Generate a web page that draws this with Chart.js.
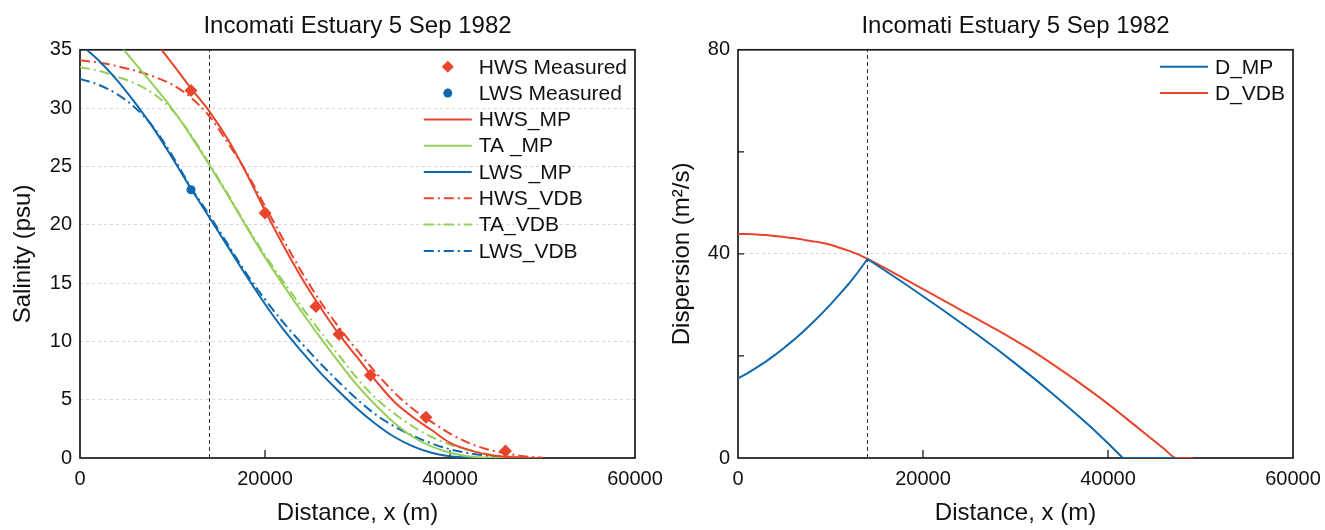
<!DOCTYPE html>
<html>
<head>
<meta charset="utf-8">
<script src="https://cdn.jsdelivr.net/npm/chart.js@4.4.1/dist/chart.umd.min.js"></script>
<style>
  html, body { margin: 0; padding: 0; background: #fff; }
  #wrap { position: relative; width: 1325px; height: 530px; }
  #left { position: absolute; left: 0; top: 0; }
  #right { position: absolute; left: 660px; top: 0; }
</style>
</head>
<body>
<div id="wrap">
  <canvas id="left" width="680" height="530"></canvas>
  <canvas id="right" width="665" height="530"></canvas>
</div>
<script>
const distance = [0, 2000, 4000, 6000, 8000, 10000, 12000, 14000, 16000, 18000, 20000, 22000, 24000,
  26000, 28000, 30000, 32000, 34000, 36000, 38000, 40000, 42000, 44000, 46000, 48000, 50000];
const hwsMP  = [null, null, null, 37.7, 35.8, 33.8, 31.7, 29.7, 27.3, 24.4, 21.2, 18.2, 15.4,
  12.9, 10.6, 8.6, 6.6, 4.8, 3.5, 2.4, 1.3, 0.7, 0.3, 0.1, 0.02, 0];
const taMP   = [null, 37.6, 35.7, 33.8, 31.9, 29.9, 27.6, 25.1, 22.5, 19.8, 17.2, 14.8, 12.5,
  10.3, 8.2, 6.2, 4.5, 3.0, 1.8, 1.0, 0.45, 0.15, 0.04, 0, 0, null];
const lwsMP  = [35.5, 34.1, 32.4, 30.4, 28.2, 25.7, 23.1, 20.6, 18.1, 15.6, 13.2, 11.0, 9.1,
  7.3, 5.7, 4.2, 2.9, 1.8, 1.0, 0.45, 0.15, 0.03, 0, 0, 0, null];
const hwsVDB = [34.1, 33.9, 33.6, 33.2, 32.7, 32.0, 30.9, 29.3, 27.0, 24.5, 21.6, 18.7, 15.9,
  13.4, 11.2, 9.2, 7.3, 5.6, 4.2, 3.1, 2.1, 1.3, 0.75, 0.4, 0.15, 0.03];
const taVDB  = [33.5, 33.2, 32.7, 32.1, 31.2, 29.8, 27.7, 25.2, 22.6, 19.9, 17.4, 15.1, 12.9,
  10.8, 8.8, 6.8, 5.1, 3.8, 2.7, 1.8, 1.15, 0.7, 0.35, 0.15, 0.05, null];
const lwsVDB = [32.5, 32.0, 31.2, 30.0, 28.3, 25.9, 23.2, 20.8, 18.3, 15.8, 13.6, 11.6, 9.8,
  8.1, 6.5, 5.0, 3.7, 2.7, 1.9, 1.25, 0.75, 0.42, 0.2, 0.08, 0.02, null];

// Measured salinity
const hwsMeasX = [12000, 20000, 25500, 28000, 31400, 37400, 46000];
const hwsMeasY = [31.5, 21.0, 13.0, 10.6, 7.1, 3.5, 0.6];
const lwsMeasX = [12000];
const lwsMeasY = [23.0];

// Dispersion curves (denser up to the 14 km kink)
const dDist = [0, 1000, 2000, 3000, 4000, 5000, 6000, 7000, 8000, 9000, 10000, 11000, 12000, 13000,
  14000, 16000, 18000, 20000, 22000, 24000, 26000, 28000, 30000, 32000, 34000, 36000, 38000,
  40000, 41600, 44000, 46000, 47400, 49200];
const dMP  = [15.6, 16.6, 17.7, 18.9, 20.2, 21.6, 23.1, 24.7, 26.4, 28.2, 30.1, 32.1, 34.2, 36.5,
  39.0, 36.6, 34.2, 31.7, 29.2, 26.6, 24.0, 21.3, 18.5, 15.6, 12.6, 9.5,
  6.3, 2.9, 0, 0, 0, 0, null];
const dVDB = [43.9, 43.9, 43.8, 43.7, 43.5, 43.3, 43.1, 42.8, 42.5, 42.2, 41.8, 41.2, 40.6, 39.9,
  39.0, 37.1, 35.1, 33.1, 31.1, 29.1, 27.1, 25.1, 23.0, 20.8, 18.4, 15.9,
  13.3, 10.6, 8.3, 4.8, 1.9, 0, 0];

const refX = 14000;   // dashed vertical marker
const chartTitle = 'Incomati Estuary 5 Sep 1982';

const RED = '#e8452c';
const GREEN = '#95cf5b';
const BLUE = '#0f68ae';
const DASHDOT = [10, 4, 2, 4];

Chart.defaults.font.family = '"Liberation Sans", Arial, sans-serif';
Chart.defaults.color = '#111';

function pts(xs, ys) {
  const out = [];
  xs.forEach((x, i) => { if (ys[i] !== null) out.push({ x: x, y: ys[i] }); });
  return out;
}

function curve(label, xs, ys, color, dash, smooth) {
  return {
    type: 'line', label: label, data: pts(xs, ys),
    borderColor: color, backgroundColor: color, borderWidth: 2,
    borderDash: dash || [], pointRadius: 0, pointHoverRadius: 0,
    cubicInterpolationMode: smooth === false ? 'default' : 'monotone',
    tension: 0, fill: false, order: 2
  };
}

function refLine(yMax) {
  return {
    type: 'line', label: '', skipLegend: true,
    data: [{ x: refX, y: 0 }, { x: refX, y: yMax }],
    borderColor: '#333', borderWidth: 1, borderDash: [4, 3],
    pointRadius: 0, order: 9
  };
}

// legend drawn inside the plot, top right
const insideLegend = {
  id: 'insideLegend',
  afterDraw(chart, args, opts) {
    const { ctx, chartArea } = chart;
    const items = chart.data.datasets.filter(d => !d.skipLegend);
    ctx.save();
    ctx.font = opts.font;
    const textW = Math.max(...items.map(d => ctx.measureText(d.label).width));
    const textX = chartArea.right - 8 - textW;
    const x2 = textX - 7, x1 = x2 - 48, xm = (x1 + x2) / 2;
    items.forEach((d, i) => {
      const y = chartArea.top + opts.top + i * opts.step;
      if (d.type === 'scatter') {
        ctx.fillStyle = d.backgroundColor;
        ctx.beginPath();
        if (d.pointStyle === 'rectRot') {
          const r = 6;
          ctx.moveTo(xm, y - r); ctx.lineTo(xm + r, y); ctx.lineTo(xm, y + r); ctx.lineTo(xm - r, y);
          ctx.closePath();
        } else {
          ctx.arc(xm, y, 4.5, 0, Math.PI * 2);
        }
        ctx.fill();
      } else {
        ctx.strokeStyle = d.borderColor;
        ctx.lineWidth = d.borderWidth;
        ctx.setLineDash(d.borderDash || []);
        ctx.beginPath(); ctx.moveTo(x1, y); ctx.lineTo(x2, y); ctx.stroke();
        ctx.setLineDash([]);
      }
      ctx.fillStyle = '#111';
      ctx.textBaseline = 'middle';
      ctx.textAlign = 'left';
      ctx.fillText(d.label, textX, y + 1);
    });
    ctx.restore();
  }
};

// box frame and inward tick marks, under the curves
const frameTicks = {
  id: 'frameTicks',
  beforeDatasetsDraw(chart, args, opts) {
    const { ctx, chartArea: a, scales } = chart;
    ctx.save();
    ctx.strokeStyle = '#1a1a1a';
    ctx.lineWidth = 1.3;
    ctx.beginPath();
    scales.x.ticks.forEach(t => {
      if (t.value <= scales.x.min || t.value >= scales.x.max) return;
      const px = scales.x.getPixelForValue(t.value);
      ctx.moveTo(px, a.bottom); ctx.lineTo(px, a.bottom - 8);
    });
    if (opts.yTicks) {
      scales.y.ticks.forEach(t => {
        if (t.value <= scales.y.min || t.value >= scales.y.max) return;
        const py = scales.y.getPixelForValue(t.value);
        ctx.moveTo(a.left, py); ctx.lineTo(a.left + 6, py);
      });
    }
    ctx.stroke();
    ctx.lineWidth = 1.7;
    ctx.strokeRect(a.left, a.top, a.right - a.left, a.bottom - a.top);
    ctx.restore();
  }
};

function xScale() {
  return {
    type: 'linear', min: 0, max: 60000,
    ticks: { stepSize: 20000, padding: 9, font: { size: 20 }, maxRotation: 0, callback: v => String(v) },
    grid: { display: false, drawTicks: false },
    border: { display: false },
    title: { display: true, text: 'Distance, x (m)', font: { size: 24 }, padding: { top: 0, bottom: 2 } },
    afterFit: s => { s.height = 72; s.paddingLeft = 0; s.paddingRight = 0; }
  };
}

function baseOptions(padRight, yScale, legendOpts, yTicks) {
  return {
    responsive: false,
    animation: false,
    events: [],
    layout: { padding: { left: 0, right: padRight, top: 0, bottom: 0 } },
    plugins: {
      legend: { display: false },
      tooltip: { enabled: false },
      title: {
        display: true, text: chartTitle, fullSize: false,
        font: { size: 24, weight: 'normal' }, color: '#111',
        padding: { top: 12, bottom: 9 }
      },
      insideLegend: legendOpts,
      frameTicks: { yTicks: yTicks }
    },
    scales: { x: xScale(), y: yScale }
  };
}

new Chart(document.getElementById('left'), {
  type: 'line',
  data: {
    datasets: [
      { type: 'scatter', label: 'HWS Measured', data: pts(hwsMeasX, hwsMeasY), pointStyle: 'rectRot',
        pointRadius: 6.5, borderWidth: 0, backgroundColor: RED, borderColor: RED, order: 0 },
      { type: 'scatter', label: 'LWS Measured', data: pts(lwsMeasX, lwsMeasY), pointStyle: 'circle',
        pointRadius: 4.5, borderWidth: 0, backgroundColor: BLUE, borderColor: BLUE, order: 0 },
      curve('HWS_MP', distance, hwsMP, RED),
      curve('TA _MP', distance, taMP, GREEN),
      curve('LWS _MP', distance, lwsMP, BLUE),
      curve('HWS_VDB', distance, hwsVDB, RED, DASHDOT),
      curve('TA_VDB', distance, taVDB, GREEN, DASHDOT),
      curve('LWS_VDB', distance, lwsVDB, BLUE, DASHDOT),
      refLine(35)
    ]
  },
  options: baseOptions(45, {
    min: 0, max: 35,
    ticks: { stepSize: 5, padding: 8, font: { size: 20 } },
    grid: {
      drawTicks: false,
      color: c => (c.tick && (c.tick.value === 0 || c.tick.value === 35)) ? 'rgba(0,0,0,0)' : '#d6d6d6'
    },
    border: { display: false, dash: [3, 3] },
    title: { display: true, text: 'Salinity (psu)', font: { size: 24 }, padding: { top: 9, bottom: 0 } },
    afterFit: s => { s.width = 80; }
  }, { font: '21px "Liberation Sans", Arial, sans-serif', top: 17, step: 26.3 }, false),
  plugins: [frameTicks, insideLegend]
});

new Chart(document.getElementById('right'), {
  type: 'line',
  data: {
    datasets: [
      curve('D_MP', dDist, dMP, BLUE, [], false),
      curve('D_VDB', dDist, dVDB, RED),
      refLine(80)
    ]
  },
  options: baseOptions(32, {
    min: 0, max: 80,
    ticks: { stepSize: 20, padding: 8, font: { size: 20 }, callback: v => (v % 40 === 0 ? String(v) : '') },
    grid: {
      drawTicks: false,
      color: c => (c.tick && c.tick.value === 40) ? '#d6d6d6' : 'rgba(0,0,0,0)'
    },
    border: { display: false, dash: [3, 3] },
    title: { display: true, text: 'Dispersion (m²/s)', font: { size: 24 }, padding: { top: 8, bottom: 0 } },
    afterFit: s => { s.width = 78; }
  }, { font: '21px "Liberation Sans", Arial, sans-serif', top: 17, step: 26.3 }, true),
  plugins: [frameTicks, insideLegend]
});
</script>
</body>
</html>
